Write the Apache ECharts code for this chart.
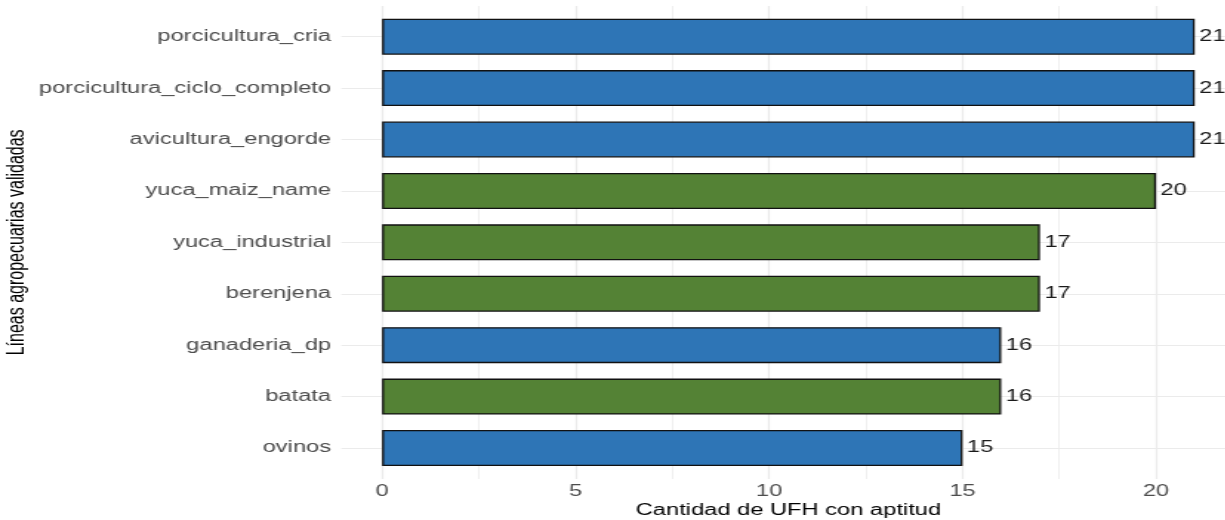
<!DOCTYPE html>
<html><head><meta charset="utf-8">
<script src="https://cdn.jsdelivr.net/npm/echarts@6/dist/echarts.min.js"></script>
<style>
html,body{margin:0;padding:0;overflow:hidden;background:#fff;width:1225px;height:520px}
#wrap{width:1225px;height:520px;overflow:hidden;position:relative}
#chart{width:828px;height:520px;transform:scaleX(1.48);transform-origin:0 0;}
</style></head><body><div id="wrap"><div id="chart"></div></div>
<script>
const categories = ['porcicultura_cria','porcicultura_ciclo_completo','avicultura_engorde','yuca_maiz_name','yuca_industrial','berenjena','ganaderia_dp','batata','ovinos'];
const values = [21,21,21,20,17,17,16,16,15];
const groups = ['pecuaria','pecuaria','pecuaria','agricola','agricola','agricola','pecuaria','agricola','pecuaria'];
const xTicks = [0,5,10,15,20];
const xMinorTicks = [2.5,7.5,12.5,17.5];
const groupColors = {pecuaria:'#2E75B6', agricola:'#548235'};

const vmax = Math.max(...values);
const xMin = -0.05*vmax, xMax = vmax*1.05;
const FONT = 'Liberation Sans';

const chart = echarts.init(document.getElementById('chart'), null, {renderer:'canvas'});
chart.setOption({
  animation:false,
  backgroundColor:'#fff',
  textStyle:{fontFamily:FONT},
  grid:[
    {left:230.7, width:604, top:6, height:473, outerBoundsMode:'none', containLabel:false},
    {left:230.7, width:604, top:11, height:462.7, outerBoundsMode:'none', containLabel:false}
  ],
  xAxis:[
    {type:'value', gridIndex:0, min:xMin, max:xMax,
     axisLine:{show:false},
     axisTick:{show:false, customValues:xTicks},
     axisLabel:{customValues:xTicks, fontSize:16, color:'#4d4d4d', margin:5, fontFamily:FONT},
     splitLine:{show:true, lineStyle:{color:'#ebebeb', width:1.2}},
     name:'Cantidad de UFH con aptitud', nameLocation:'middle', nameGap:24, nameMoveOverlap:false,
     nameTextStyle:{fontSize:16, color:'#000', fontFamily:FONT}},
    {type:'value', gridIndex:0, min:xMin, max:xMax,
     axisLine:{show:false},
     axisTick:{show:false, customValues:xMinorTicks},
     axisLabel:{show:false, customValues:xMinorTicks},
     splitLine:{show:true, lineStyle:{color:'#ebebeb', width:0.8}}},
    {type:'value', gridIndex:1, min:xMin, max:xMax, show:false}
  ],
  yAxis:[
    {type:'value', gridIndex:0, show:false, min:0, max:1},
    {type:'category', gridIndex:1, data:categories, inverse:true,
     axisLine:{show:false}, axisTick:{show:false},
     axisLabel:{fontSize:16, color:'#4d4d4d', margin:7, fontFamily:FONT},
     splitLine:{show:true, alignWithLabel:true, lineStyle:{color:'#ebebeb', width:1.2}},
     name:'Líneas agropecuarias validadas', nameLocation:'middle', nameRotate:90, nameGap:211, nameMoveOverlap:false,
     nameTextStyle:{fontSize:16, color:'#000', fontFamily:FONT}}
  ],
  series:[{
    type:'bar', xAxisIndex:2, yAxisIndex:1, barWidth:'70%',
    data: values.map((v,i)=>({value:v, itemStyle:{color:groupColors[groups[i]]}})),
    itemStyle:{borderColor:'#111', borderWidth:1.3},
    label:{show:true, position:'right', distance:3, fontSize:16, color:'#1a1a1a', fontFamily:FONT}
  }]
});
</script></body></html>
